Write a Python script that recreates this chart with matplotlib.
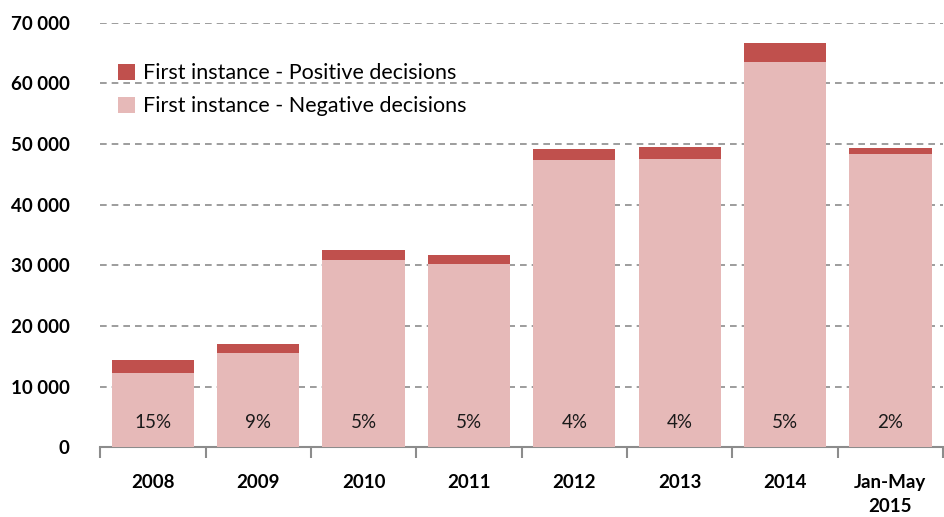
import numpy as np
import matplotlib
matplotlib.use("Agg")
import matplotlib.pyplot as plt
from matplotlib.ticker import FuncFormatter, FixedLocator

plt.rcParams['font.family'] = ['Lato', 'DejaVu Sans']

# Data
categories = ['2008', '2009', '2010', '2011', '2012', '2013', '2014', 'Jan-May\n2015']
negative = [12200, 15500, 30900, 30150, 47300, 47500, 63500, 48400]
positive = [2150, 1500, 1600, 1550, 1950, 1950, 3100, 1000]
share_labels = ['15%', '9%', '5%', '5%', '4%', '4%', '5%', '2%']

POS_COLOR = '#C0504D'
NEG_COLOR = '#E6B9B8'
GRID = '#8C8C8C'

fig = plt.figure(figsize=(9.45, 5.17), dpi=100)
ax = fig.add_axes([0.106, 0.135, 0.892, 0.821])

x = np.arange(len(categories))
w = 0.78
ax.bar(x, negative, width=w, color=NEG_COLOR, label='First instance - Negative decisions', zorder=3)
ax.bar(x, positive, width=w, bottom=negative, color=POS_COLOR,
       label='First instance - Positive decisions', zorder=3)

for xi, lab in zip(x, share_labels):
    ax.text(xi, 4000, lab, ha='center', va='center', fontsize=13.5, color='#1a1a1a', zorder=4)

ax.set_xlim(-0.5, len(categories) - 0.5)
ax.set_ylim(0, 70000)
ax.set_yticks(np.arange(0, 70001, 10000))
ax.yaxis.set_major_formatter(FuncFormatter(lambda v, p: f'{int(v):,}'.replace(',', ' ')))
ax.yaxis.grid(True, linestyle=(0, (4, 3)), color=GRID, linewidth=1.2, zorder=0)
ax.tick_params(axis='y', length=0, pad=22, labelsize=13.5)
for t in ax.get_yticklabels():
    t.set_fontweight('bold')

ax.set_xticks(x)
ax.set_xticklabels(categories, fontsize=13.5, fontweight='bold', linespacing=1.5)
ax.xaxis.set_minor_locator(FixedLocator(np.arange(-0.5, len(categories), 1.0)))
ax.tick_params(axis='x', which='major', length=0, pad=19)
ax.tick_params(axis='x', which='minor', length=8, color=GRID, width=1.5, direction='out')

for s in ['top', 'right', 'left']:
    ax.spines[s].set_visible(False)
ax.spines['bottom'].set_color(GRID)
ax.spines['bottom'].set_linewidth(1.5)

h, l = ax.get_legend_handles_labels()
ax.legend(h[::-1], l[::-1], loc='upper left', bbox_to_anchor=(-0.002, 0.95), frameon=False,
          fontsize=15.5, handlelength=0.8, handleheight=0.8, handletextpad=0.35,
          labelspacing=0.6)

fig.savefig('out.png', dpi=100)
